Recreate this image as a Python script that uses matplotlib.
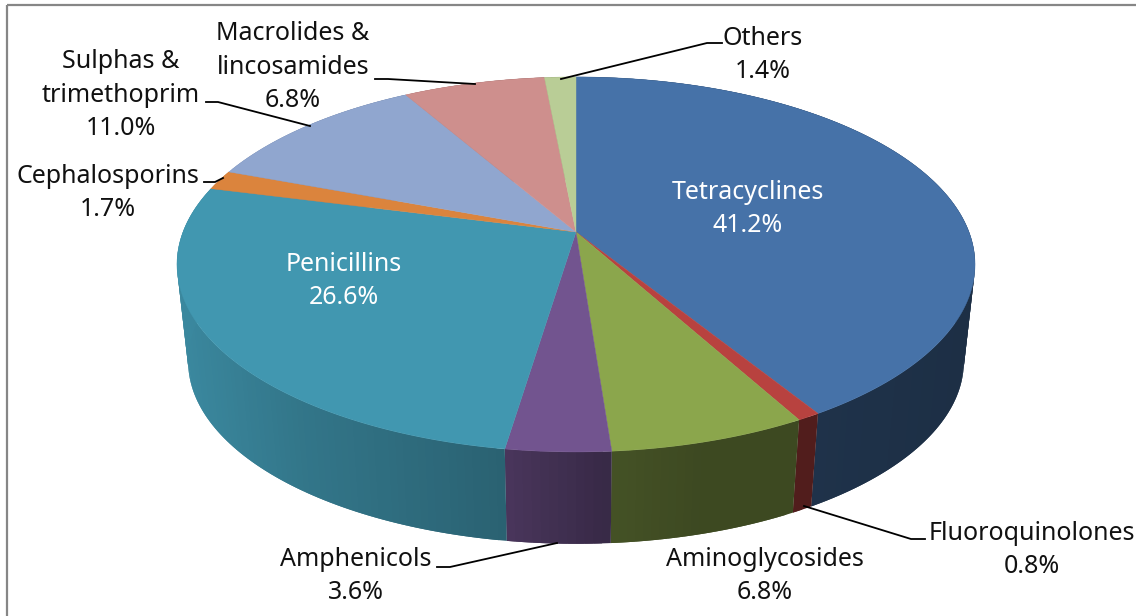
import numpy as np
import matplotlib.pyplot as plt
from matplotlib.colors import to_rgb
from matplotlib.patches import Polygon, Rectangle

# slices clockwise from 12 o'clock
categories = ["Tetracyclines", "Fluoroquinolones", "Aminoglycosides", "Amphenicols", "Penicillins",
              "Cephalosporins", "Sulphas &\ntrimethoprim", "Macrolides &\nlincosamides", "Others"]
values = [41.2, 0.8, 6.8, 3.6, 26.6, 1.7, 11.0, 6.8, 1.4]
colors = ["#4672A8", "#B8423F", "#8BA64C", "#72548F", "#4197B0", "#DB843D", "#90A6CF", "#CE8F8D", "#B9CD96"]

# label centres and colours, pixels
label_pos = [(748, 209), (1032, 550), (765, 576), (356, 576), (344, 281), (108, 193), (121, 95), (293, 67), (763, 55)]
label_col = ["white", "#111111", "#111111", "#111111", "white", "#111111", "#111111", "#111111", "#111111"]

# leader lines, pixels
leaders = [None,
           [(925, 539), (911, 539), (804, 506)],
           None,
           [(437, 567), (450, 567), (557, 543)],
           None,
           [(204, 182), (215, 182), (223, 178)],
           [(206, 102), (218, 102), (310, 126)],
           [(375, 79), (388, 79), (475, 84)],
           [(722, 43), (707, 43), (561, 79)]]

# pie perspective
cx, cy = 576, 232
A, B, p = 393, 181.9, -0.173
depth, shrink = 98, 0.972


def top_xy(theta):
    u, v = np.sin(theta), np.cos(theta)
    d = 1 - p * v
    return cx + A * u / d, cy - B * v / d


def bottom_xy(theta):
    x, y = top_xy(theta)
    return cx + shrink * (x - cx), cy + depth + shrink * (y - cy)


def shade(x):
    # side wall gets darker going left to right
    return np.interp(x, [178, 300, 500, 600, 700, 820, 974], [0.90, 0.78, 0.65, 0.50, 0.44, 0.44, 0.41])


fig = plt.figure(figsize=(11.36, 6.16), dpi=100)
ax = fig.add_axes([0, 0, 1, 1])
ax.set_xlim(0, 1136)
ax.set_ylim(616, 0)
ax.axis("off")

ax.add_patch(Rectangle((7, 5), 1200, 700, fill=False, edgecolor="#868686", linewidth=1.6))

fractions = np.array(values) / 100
edges = np.concatenate([[0], np.cumsum(fractions)]) * 2 * np.pi
edges[-1] = 2 * np.pi

# side walls, each strip runs a bit under the next one so no seams show
for i, col in enumerate(colors):
    n = max(int(np.degrees(edges[i + 1] - edges[i])), 2)
    th = np.linspace(edges[i], edges[i + 1], n + 1)
    rgb = np.array(to_rgb(col))
    step = th[1] - th[0]
    for a in th[:-1]:
        b = min(a + 2 * step, edges[i + 1])
        arc = np.linspace(a, b, 5)
        tx, ty = top_xy(arc)
        bx, by = bottom_xy(arc)
        mid, _ = top_xy(a + step / 2)
        pts = list(zip(tx, ty)) + list(zip(bx[::-1], by[::-1]))
        ax.add_patch(Polygon(pts, facecolor=tuple(rgb * shade(mid)), edgecolor="none"))

# top face
for i, col in enumerate(colors):
    th = np.linspace(edges[i], edges[i + 1], max(int(np.degrees(edges[i + 1] - edges[i])) * 2, 4))
    xs, ys = top_xy(th)
    pts = [(cx, cy)] + list(zip(xs, ys))
    ax.add_patch(Polygon(pts, facecolor=col, edgecolor=col, linewidth=0.3))

for i, name in enumerate(categories):
    x, y = label_pos[i]
    ax.text(x, y, f"{name}\n{values[i]:.1f}%", color=label_col[i], ha="center", va="center",
            family="Noto Sans", fontsize=18, linespacing=1.45)
    if leaders[i] is not None:
        ax.plot([q[0] for q in leaders[i]], [q[1] for q in leaders[i]], color="black", linewidth=1.3)

plt.savefig("out.png", dpi=100)
